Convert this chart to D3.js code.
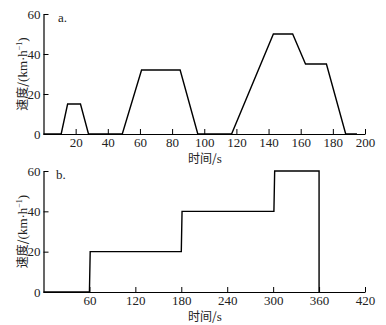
<!DOCTYPE html>
<html><head><meta charset="utf-8">
<script src="https://cdn.jsdelivr.net/npm/d3@7"></script>
<style>body{margin:0;background:#fff}svg{display:block}</style>
</head><body>
<script>
const timeA = [0, 11, 15, 23, 28, 49, 61, 85, 96, 117, 143, 155, 163, 176, 188, 195];
const speedA = [0, 0, 15, 15, 0, 0, 32, 32, 0, 0, 50, 50, 35, 35, 0, 0];
const ticksAx = [20, 40, 60, 80, 100, 120, 140, 160, 180, 200];
const ticksAy = [0, 20, 40, 60];
const timeB = [0, 60, 61, 180, 181, 301, 302, 360, 360];
const speedB = [0, 0, 20, 20, 40, 40, 60, 60, 0];
const ticksBx = [60, 120, 180, 240, 300, 360, 420];
const ticksBy = [0, 20, 40, 60];
const panelLabels = ["a.", "b."];
const yTitleCJK = "速度/";
const yTitleUnit = "(km·h";
const xTitleCJK = "时间/";
const xTitleUnit = "s";

const W = 386, H = 325;
const svg = d3.select("body").append("svg").attr("width", W).attr("height", H);
const numFont = "'Liberation Serif','Times New Roman',serif";
const cjkFont = "'Noto Sans CJK SC',sans-serif";

function panel(opts) {
  const x = d3.scaleLinear().domain([0, opts.xmax]).range([43.5, 365]);
  const y = d3.scaleLinear().domain([0, 60]).range([opts.y0, opts.y1]);
  const g = svg.append("g");
  const xa = g.append("g").attr("transform", `translate(0,${opts.y0})`)
    .call(d3.axisBottom(x).tickValues(opts.xt).tickSizeInner(-5).tickSizeOuter(0).tickPadding(4));
  const ya = g.append("g").attr("transform", `translate(${x(0)},0)`)
    .call(d3.axisLeft(y).tickValues(opts.yt).tickSizeInner(-5).tickSizeOuter(0).tickPadding(3));
  [xa, ya].forEach(a => {
    a.select(".domain").attr("stroke", "#000").attr("stroke-width", 1.2);
    a.selectAll(".tick line").attr("stroke", "#000");
    a.selectAll("text").attr("font-family", numFont).attr("font-size", 13).attr("fill", "#222");
  });
  const data = opts.t.map((t, i) => [t, opts.s[i]]);
  g.append("path").datum(data)
    .attr("fill", "none").attr("stroke", "#000").attr("stroke-width", 1.4)
    .attr("d", d3.line().x(d => x(d[0])).y(d => y(d[1])));
  g.append("text").attr("x", opts.lx).attr("y", y(60) + 8).text(opts.label)
    .attr("font-family", numFont).attr("font-size", 13).attr("fill", "#222");
  const xt = g.append("text").attr("x", 205).attr("y", opts.y0 + 29).attr("text-anchor", "middle")
    .attr("font-size", 12).attr("fill", "#222");
  xt.append("tspan").attr("font-family", cjkFont).text(xTitleCJK);
  xt.append("tspan").attr("font-family", numFont).attr("font-size", 13).text(xTitleUnit);
  const yt = g.append("text")
    .attr("transform", `translate(27,${(opts.y0 + opts.y1) / 2}) rotate(-90)`)
    .attr("text-anchor", "middle").attr("font-size", 12).attr("fill", "#222");
  yt.append("tspan").attr("font-family", cjkFont).text(yTitleCJK);
  yt.append("tspan").attr("font-family", numFont).attr("font-size", 13).text(yTitleUnit);
  yt.append("tspan").attr("font-family", numFont).attr("dy", -5).attr("font-size", 8).text("−1");
  yt.append("tspan").attr("font-family", numFont).attr("font-size", 13).attr("dy", 5).text(")");
}

panel({xmax: 200, y0: 134, y1: 14, xt: ticksAx, yt: ticksAy, t: timeA, s: speedA, label: panelLabels[0], lx: 58});
panel({xmax: 420, y0: 292, y1: 171, xt: ticksBx, yt: ticksBy, t: timeB, s: speedB, label: panelLabels[1], lx: 56});
</script>
</body></html>
